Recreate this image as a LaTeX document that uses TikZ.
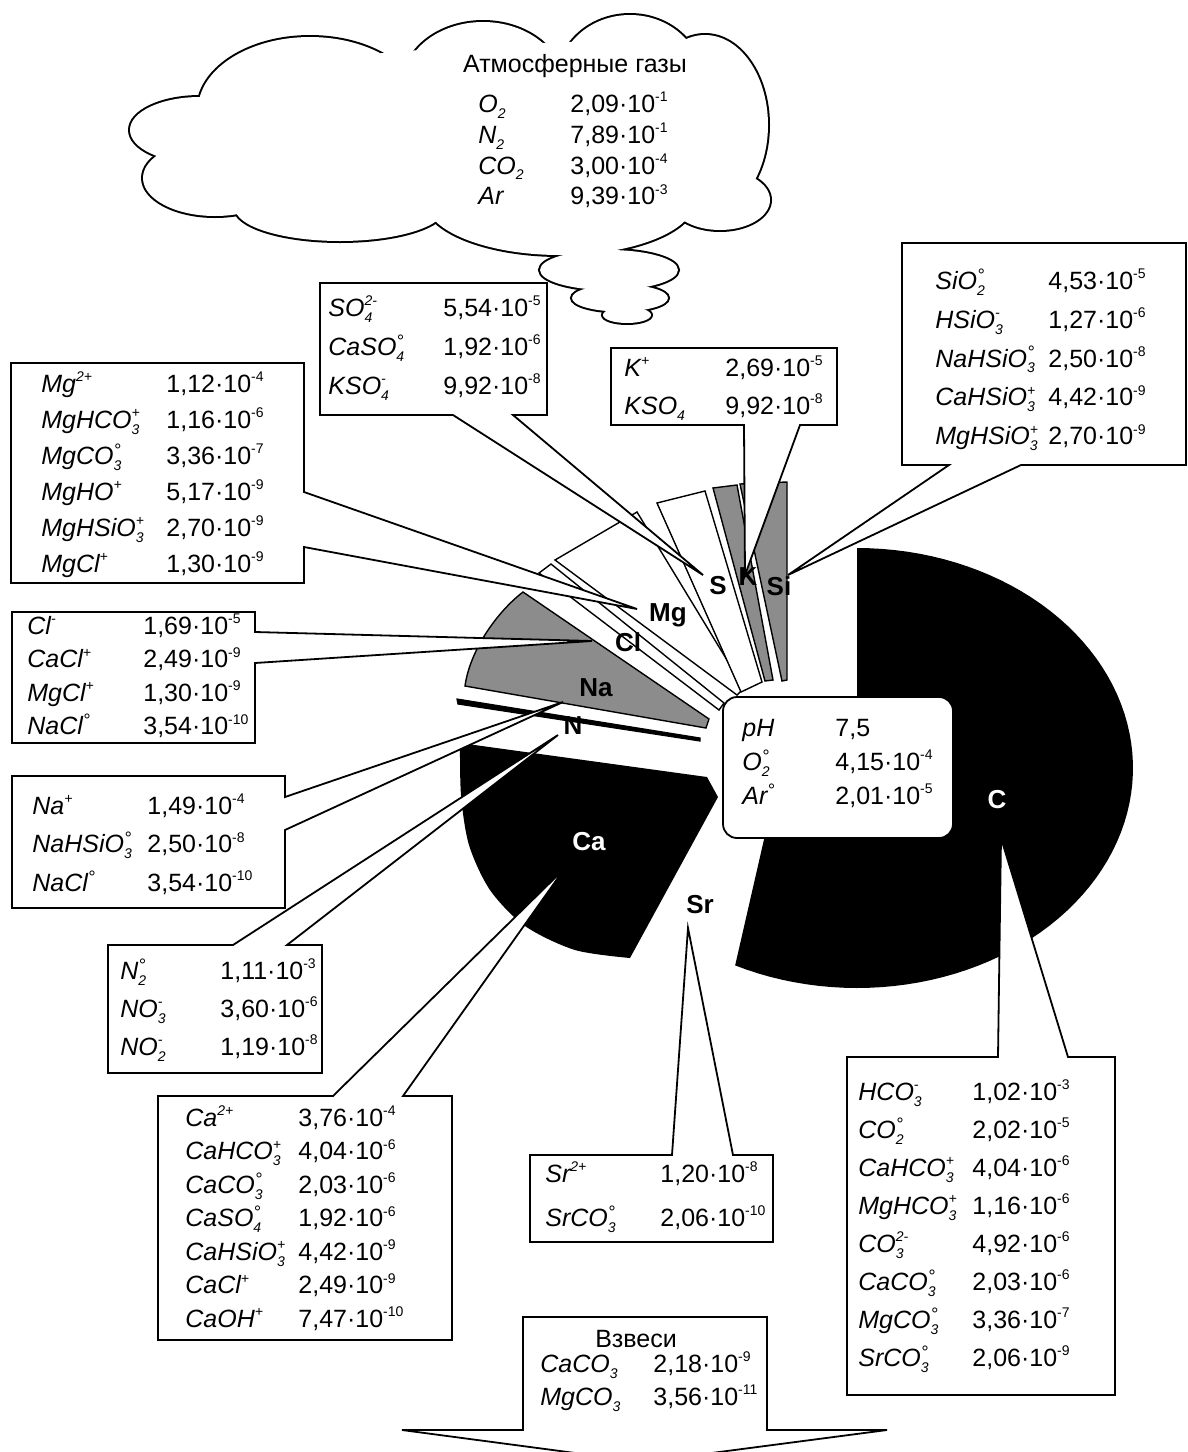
\documentclass[tikz,border=0pt]{standalone}
\usepackage{fontspec}
\setmainfont{Liberation Sans}
\newcommand\smf{\fontsize{7}{7}\selectfont}
\newcommand\chsp[1]{\raisebox{0.8ex}{\smf #1}}
\newcommand\chsb[1]{\raisebox{-0.45ex}{\smf #1}}
\newcommand\chss[2]{\setbox0=\hbox{\smf #1}\setbox2=\hbox{\smf #2}\ifdim\wd0>\wd2 \wd2=\wd0 \fi\rlap{\raisebox{-0.45ex}{\box0}}\raisebox{0.8ex}{\box2}}
\newcommand\dgr{\raisebox{-0.3ex}{\fontsize{9}{9}\selectfont °}}
\newcommand\tp[1]{10\chsp{#1}}
\newcommand\rw[2]{\makebox[\colw][l]{\textit{#1}}#2}
\tikzset{
  colw/.store in=\colw, colw=50pt,
  tbl/.style={anchor=north west, inner sep=0pt, align=left, font=\fontsize{12.5}{#1}\selectfont},
  callout/.style={draw=black, fill=white, line width=0.9pt, line join=miter},
  wedge/.style={draw=black, line width=0.7pt, line join=miter},
  lbl/.style={inner sep=0pt, font=\fontsize{13}{13}\selectfont\bfseries},
  cloudline/.style={line width=2pt}
}
\begin{document}
\begin{tikzpicture}[x=0.5pt,y=-0.5pt]
\useasboundingbox (0,0) rectangle (1188,1452);
\clip (0,0) rectangle (1188,1452);
\fill[white] (0,0) rectangle (1188,1452);
% ---------- cloud (union of ellipses) ----------
\def\cloudlist{310/110/112/73, 483/85/80/63, 630/80/72/65, 705/125/63/90, 200/130/70/33, 215/178/72/38, 340/208/105/33, 560/200/135/55, 720/200/50/30, 609/270/69/20, 620/298/48/13.5, 627/315/24/8}
\foreach \cx/\cy/\rx/\ry in \cloudlist {\draw[cloudline] (\cx,\cy) ellipse [x radius=\rx, y radius=\ry];}
\foreach \cx/\cy/\rx/\ry in \cloudlist {\fill[white] (\cx,\cy) ellipse [x radius=\rx, y radius=\ry];}
\fill[white] (205,110) -- (300,60) -- (480,45) -- (630,40) -- (720,60) -- (740,130) -- (700,200) -- (560,215) -- (340,215) -- (220,190) -- (170,140) -- cycle;
\node[anchor=base, inner sep=0pt, font=\fontsize{12.5}{15}\selectfont] (cloudtitle) at (575,72) {Атмосферные газы};
\node[tbl=15.4pt, colw=46pt] (cloudrows) at (478,90) {\rule{0pt}{11pt}\rw{O\chsb{2}}{2,09·\tp{-1}}\\
\rw{N\chsb{2}}{7,89·\tp{-1}}\\
\rw{CO\chsb{2}}{3,00·\tp{-4}}\\
\rw{Ar}{9,39·\tp{-3}}};
% ---------- pie sectors ----------
% C
\fill[black] (857,548) -- plot[domain=-90:116.2, samples=80, variable=\t] ({857+276*cos(\t)},{768+220*sin(\t)}) -- (765,835) -- (857,700) -- cycle;
% Ca
\fill[black] (460,743) -- (707,777) -- (718,797) -- (630,958) -- plot[smooth] coordinates {(630,958) (575,950) (525,926) (490,890) (469,845) (461,795) (460,743)} -- cycle;
% Na
\filldraw[wedge, fill=black!45] (523,592) .. controls (497,612) and (470,650) .. (465,686) -- (706,728) -- (709,719) -- cycle;
% N
\filldraw[wedge, fill=black, line width=0.6pt] (457,699) -- (700,738) -- (700,741) -- (458,704) -- cycle;
% Cl
\filldraw[wedge, fill=white] (539,573) -- (551,564) -- (724,703) -- (719,710) -- cycle;
% Mg
\filldraw[wedge, fill=white] (555,560) -- (637,512) -- (744,688) -- (737,695) -- cycle;
% S
\filldraw[wedge, fill=white] (657,503) -- (705,491) -- (762,682) -- (741,692) -- cycle;
% K
\filldraw[wedge, fill=black!45] (713,488) -- (737,485) -- (773,680) -- (765,681) -- cycle;
% Si
\filldraw[wedge, fill=black!45] (740,484) -- (787,482) -- (787,680) -- (782,681) -- cycle;
% ---------- pointer tips ----------
\coordinate (tSO) at (703,575);
\coordinate (tK) at (745,575);
\coordinate (tSi) at (788,575);
\coordinate (tMg) at (637,609);
\coordinate (tCl) at (592,641);
\coordinate (tNa) at (563,702);
\coordinate (tN) at (558,735);
\coordinate (tCa) at (565,868);
\coordinate (tSr) at (688,928);
\coordinate (tC) at (1001,838);
\coordinate (tV) at (643,1462);
% ---------- callout boxes ----------
\draw[callout] (320,283) -- (547,283) -- (547,415) -- (513,415) -- (tSO) -- (453,415) -- (320,415) -- cycle;
\draw[callout] (611,348) -- (837,348) -- (837,425) -- (800,425) -- (tK) -- (744,425) -- (611,425) -- cycle;
\draw[callout] (902,243) -- (1186,243) -- (1186,465) -- (1021,465) -- (tSi) -- (949,465) -- (902,465) -- cycle;
\draw[callout] (11,363) -- (304,363) -- (304,492) -- (tMg) -- (304,547) -- (304,583) -- (11,583) -- cycle;
\draw[callout] (12,612) -- (255,612) -- (255,632) -- (tCl) -- (255,663) -- (255,743) -- (12,743) -- cycle;
\draw[callout] (12,776) -- (285,776) -- (285,797) -- (tNa) -- (285,830) -- (285,908) -- (12,908) -- cycle;
\draw[callout] (108,945) -- (233,945) -- (tN) -- (287,945) -- (322,945) -- (322,1073) -- (108,1073) -- cycle;
\draw[callout] (158,1096) -- (333,1096) -- (tCa) -- (403,1096) -- (452,1096) -- (452,1340) -- (158,1340) -- cycle;
\draw[callout] (530,1155) -- (672,1155) -- (tSr) -- (733,1155) -- (773,1155) -- (773,1242) -- (530,1242) -- cycle;
\draw[callout] (847,1057) -- (998,1057) -- (tC) -- (1068,1057) -- (1115,1057) -- (1115,1395) -- (847,1395) -- cycle;
\draw[callout] (523,1317) -- (767,1317) -- (767,1430) -- (887,1430) -- (tV) -- (402,1430) -- (523,1430) -- cycle;
\draw[callout, rounded corners=7pt] (723,697) rectangle (953,838);
% ---------- box texts ----------
\node[tbl=19.5pt, colw=57.5pt] (so4) at (328,294) {\rule{0pt}{11pt}\rw{SO\chss{4}{2-}}{5,54·\tp{-5}}\\
\rw{CaSO\chss{4}{\dgr}}{1,92·\tp{-6}}\\
\rw{KSO\chss{4}{-}}{9,92·\tp{-8}}};
\node[tbl=19pt, colw=50.5pt] (kbox) at (624,354) {\rule{0pt}{11pt}\rw{K\chsp{+}}{2,69·\tp{-5}}\\
\rw{KSO\chsb{4}}{9,92·\tp{-8}}};
\node[tbl=19.4pt, colw=56.5pt] (sibox) at (935,267) {\rule{0pt}{11pt}\rw{SiO\chss{2}{\dgr}}{4,53·\tp{-5}}\\
\rw{HSiO\chss{3}{-}}{1,27·\tp{-6}}\\
\rw{NaHSiO\chss{3}{\dgr}}{2,50·\tp{-8}}\\
\rw{CaHSiO\chss{3}{+}}{4,42·\tp{-9}}\\
\rw{MgHSiO\chss{3}{+}}{2,70·\tp{-9}}};
\node[tbl=18pt, colw=62.5pt] (mgbox) at (41,370) {\rule{0pt}{11pt}\rw{Mg\chsp{2+}}{1,12·\tp{-4}}\\
\rw{MgHCO\chss{3}{+}}{1,16·\tp{-6}}\\
\rw{MgCO\chss{3}{\dgr}}{3,36·\tp{-7}}\\
\rw{MgHO\chsp{+}}{5,17·\tp{-9}}\\
\rw{MgHSiO\chss{3}{+}}{2,70·\tp{-9}}\\
\rw{MgCl\chsp{+}}{1,30·\tp{-9}}};
\node[tbl=16.7pt, colw=58pt] (clbox) at (27,612) {\rule{0pt}{11pt}\rw{Cl\chsp{-}}{1,69·\tp{-5}}\\
\rw{CaCl\chsp{+}}{2,49·\tp{-9}}\\
\rw{MgCl\chsp{+}}{1,30·\tp{-9}}\\
\rw{NaCl\chsp{\dgr}}{3,54·\tp{-10}}};
\node[tbl=19.25pt, colw=57.5pt] (nabox) at (32,792) {\rule{0pt}{11pt}\rw{Na\chsp{+}}{1,49·\tp{-4}}\\
\rw{NaHSiO\chss{3}{\dgr}}{2,50·\tp{-8}}\\
\rw{NaCl\chsp{\dgr}}{3,54·\tp{-10}}};
\node[tbl=19pt, colw=50pt] (nbox) at (120,957) {\rule{0pt}{11pt}\rw{N\chss{2}{\dgr}}{1,11·\tp{-3}}\\
\rw{NO\chss{3}{-}}{3,60·\tp{-6}}\\
\rw{NO\chss{2}{-}}{1,19·\tp{-8}}};
\node[tbl=16.75pt, colw=56.5pt] (cabox) at (185,1104) {\rule{0pt}{11pt}\rw{Ca\chsp{2+}}{3,76·\tp{-4}}\\
\rw{CaHCO\chss{3}{+}}{4,04·\tp{-6}}\\
\rw{CaCO\chss{3}{\dgr}}{2,03·\tp{-6}}\\
\rw{CaSO\chss{4}{\dgr}}{1,92·\tp{-6}}\\
\rw{CaHSiO\chss{3}{+}}{4,42·\tp{-9}}\\
\rw{CaCl\chsp{+}}{2,49·\tp{-9}}\\
\rw{CaOH\chsp{+}}{7,47·\tp{-10}}};
\node[tbl=22pt, colw=57.5pt] (srbox) at (545,1160) {\rule{0pt}{11pt}\rw{Sr\chsp{2+}}{1,20·\tp{-8}}\\
\rw{SrCO\chss{3}{\dgr}}{2,06·\tp{-10}}};
\node[anchor=base, inner sep=0pt, font=\fontsize{12.5}{15}\selectfont] (vztitle) at (636,1347) {Взвеси};
\node[tbl=16.5pt, colw=56.5pt] (vzbox) at (540,1350) {\rule{0pt}{11pt}\rw{CaCO\chsb{3}}{2,18·\tp{-9}}\\
\rw{MgCO\chsb{3}}{3,56·\tp{-11}}};
\node[tbl=19pt, colw=57pt] (cbox) at (858,1078) {\rule{0pt}{11pt}\rw{HCO\chss{3}{-}}{1,02·\tp{-3}}\\
\rw{CO\chss{2}{\dgr}}{2,02·\tp{-5}}\\
\rw{CaHCO\chss{3}{+}}{4,04·\tp{-6}}\\
\rw{MgHCO\chss{3}{+}}{1,16·\tp{-6}}\\
\rw{CO\chss{3}{2-}}{4,92·\tp{-6}}\\
\rw{CaCO\chss{3}{\dgr}}{2,03·\tp{-6}}\\
\rw{MgCO\chss{3}{\dgr}}{3,36·\tp{-7}}\\
\rw{SrCO\chss{3}{\dgr}}{2,06·\tp{-9}}};
\node[tbl=17pt, colw=46.5pt] (phbox) at (742,714) {\rule{0pt}{11pt}\rw{pH}{7,5}\\
\rw{O\chss{2}{\dgr}}{4,15·\tp{-4}}\\
\rw{Ar\chsp{\dgr}}{2,01·\tp{-5}}};
% ---------- sector labels ----------
\node[lbl] (lMg) at (668,615) {Mg};
\node[lbl] (lS) at (718,586) {S};
\node[lbl] (lK) at (748,577) {K};
\node[lbl] (lSi) at (779,586) {Si};
\node[lbl] (lCl) at (628,642) {Cl};
\node[lbl] (lNa) at (596,688) {Na};
\node[lbl] (lN) at (573,726) {N};
\node[lbl, text=white] (lCa) at (589,842) {Ca};
\node[lbl] (lSr) at (700,905) {Sr};
\node[lbl, text=white] (lC) at (997,800) {C};
\end{tikzpicture}
\end{document}
